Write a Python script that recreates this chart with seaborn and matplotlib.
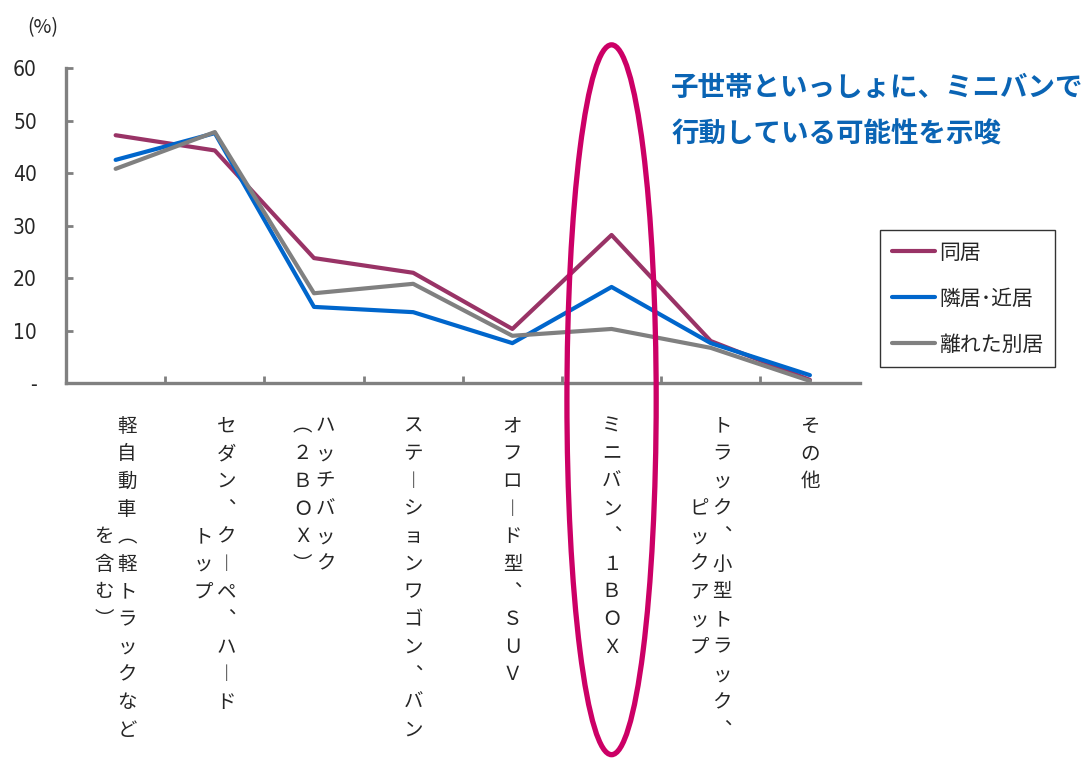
import matplotlib
matplotlib.use('Agg')
import numpy as np
import pandas as pd
import seaborn as sns
import matplotlib.pyplot as plt
from matplotlib.patches import Ellipse
from matplotlib.transforms import blended_transform_factory

# Data (%), "\n" marks where the label wraps to the next column
car_types = ['軽自動車（軽トラックなど\nを含む）',
             'セダン、クーペ、ハード\nトップ',
             'ハッチバック\n（２ＢＯＸ）',
             'ステーションワゴン、バン',
             'オフロード型、ＳＵＶ',
             'ミニバン、１ＢＯＸ',
             'トラック、小型トラック、\nピックアップ',
             'その他']
series_names = ['同居', '隣居･近居', '離れた別居']
doukyo = [47.2, 44.3, 23.8, 21.0, 10.3, 28.2, 8.0, 0.6]
kinkyo = [42.5, 47.6, 14.5, 13.5, 7.6, 18.3, 7.6, 1.5]
bekkyo = [40.8, 47.8, 17.1, 18.9, 9.0, 10.3, 6.7, 0.4]
y_ticks = [0, 10, 20, 30, 40, 50, 60]
y_tick_labels = ['-', '10', '20', '30', '40', '50', '60']

colors = ['#993366', '#0066CC', '#808080']
highlight = 5  # ミニバン gets the ellipse

df = pd.DataFrame({
    'pos': list(range(len(car_types))) * 3,
    'share': doukyo + kinkyo + bekkyo,
    'type': np.repeat(series_names, len(car_types)),
})

sns.set_style('white')
plt.rcParams['font.family'] = ['Noto Sans CJK JP', 'DejaVu Sans']

fig = plt.figure(figsize=(10.88, 7.6), dpi=100)
ax = fig.add_axes([0.0607, 0.496, 0.7293, 0.4145])

sns.lineplot(data=df, x='pos', y='share', hue='type', hue_order=series_names,
             palette=dict(zip(series_names, colors)), linewidth=3, sort=False, ax=ax)

ax.set_xlim(-0.5, len(car_types) - 0.5)
ax.set_ylim(0, 60)
ax.set_xlabel('')
ax.set_ylabel('')
sns.despine(ax=ax)
for s in ['left', 'bottom']:
    ax.spines[s].set_color('#808080')
    ax.spines[s].set_linewidth(2.4)

ax.set_yticks(y_ticks)
ax.set_yticklabels(y_tick_labels, fontsize=15, fontfamily='DejaVu Sans',
                   fontstretch='condensed')
ax.tick_params(axis='y', left=True, direction='in', length=5, width=2,
               color='#808080', pad=21)
ax.set_xticks(range(len(car_types)))
ax.set_xticks(np.arange(0.5, len(car_types) - 1, 1), minor=True)
ax.tick_params(axis='x', which='major', bottom=False, labelbottom=False)
ax.tick_params(axis='x', which='minor', bottom=True, direction='in', length=5,
               width=2, color='#808080')

# vertical (tategaki) category labels, one glyph at a time
vert = {'ー': '︱', '（': '︵', '）': '︶', '、': '︑'}
pitch = 19.9      # points between rows
col_gap = 16.5    # points between columns
first_row = 31
for i, label in enumerate(car_types):
    cols = label.split('\n')
    n = max(len(c) for c in cols)
    for j, col in enumerate(cols):
        dx = ((len(cols) - 1) / 2 - j) * col_gap
        start = (n - len(col)) / 2
        for k, ch in enumerate(col):
            ax.annotate(vert.get(ch, ch), xy=(i, 0), xycoords=('data', 'axes fraction'),
                        xytext=(dx, -(first_row + (start + k) * pitch)),
                        textcoords='offset points', ha='center', va='center',
                        fontsize=14, annotation_clip=False)

handles, labels = ax.get_legend_handles_labels()
leg = ax.legend(handles, labels, loc='upper left', bbox_to_anchor=(0.809, 0.697),
                bbox_transform=fig.transFigure, fontsize=15, frameon=True,
                fancybox=False, edgecolor='black', handlelength=2.1,
                labelspacing=1.15, borderpad=0.55, handletextpad=0.2,
                borderaxespad=0)
leg.get_frame().set_linewidth(1.0)

fig.text(0.025, 1 - 28 / 760, '(%)', fontsize=14, va='center')
fig.text(0.617, 0.903, '子世帯といっしょに、ミニバンで\n行動している可能性を示唆',
         fontsize=19.8, fontweight='bold', color='#0A64B4', va='top', ha='left',
         linespacing=1.85)

ell = Ellipse((highlight, 0.474), width=0.9, height=0.934,
              transform=blended_transform_factory(ax.transData, fig.transFigure),
              fill=False, edgecolor='#CC0066', linewidth=3.8, clip_on=False)
fig.add_artist(ell)

fig.savefig('out.png', dpi=100)
